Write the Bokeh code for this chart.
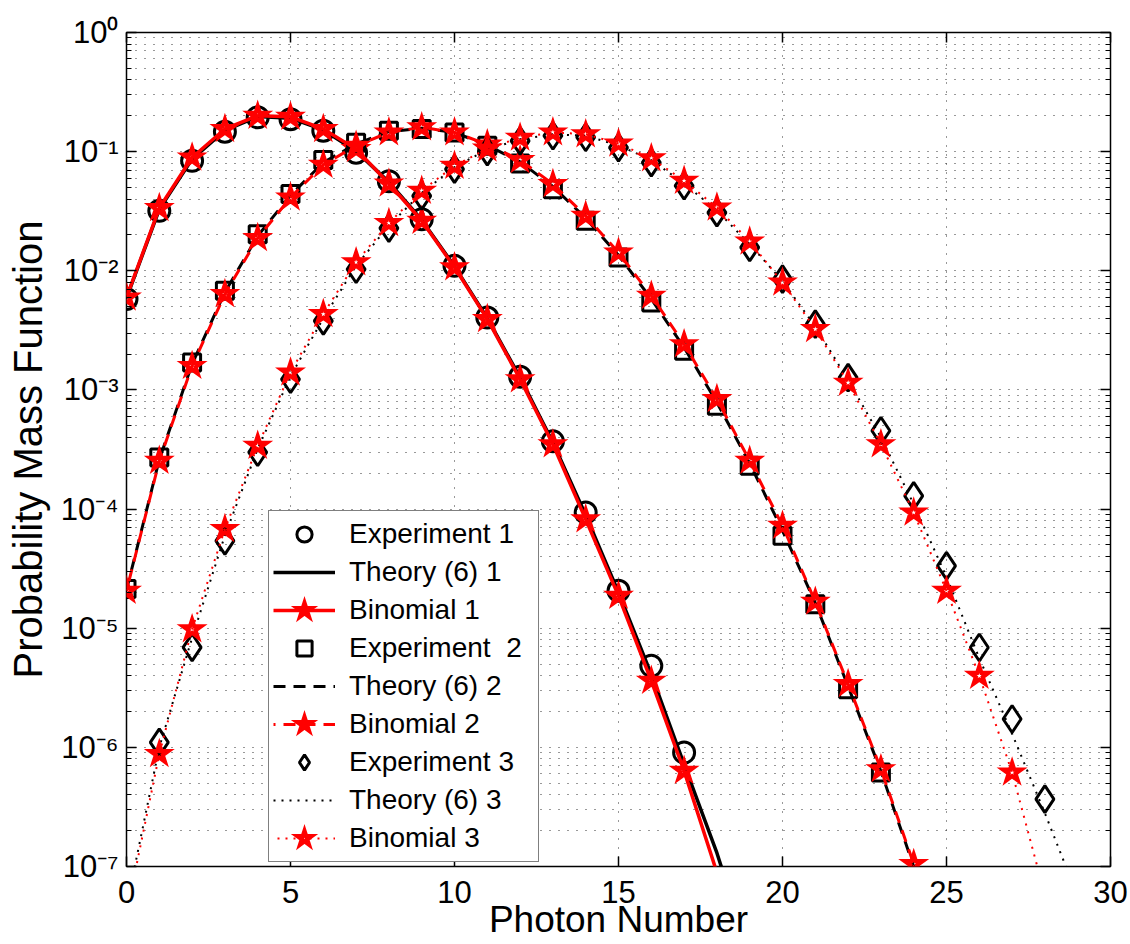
from bokeh.plotting import figure
from bokeh.models import (Range1d, LinearAxis, LogAxis, FixedTicker,
                          CustomJSTickFormatter, Legend, LegendItem)
from bokeh.embed import file_html
from bokeh.resources import INLINE

FONT = "Liberation Sans"

# ---------------- data ----------------
n_exp1 = list(range(0, 18))
exp1 = [5.8e-3, 0.0319, 0.0838, 0.147, 0.194, 0.187, 0.150, 0.098, 0.0565,
        0.0271, 0.0110, 4.05e-3, 1.29e-3, 3.7e-4, 9.35e-5, 2.06e-5, 4.83e-6,
        9.05e-7]
n_theory1 = list(range(0, 20))
theory1 = [5.9e-3, 0.0328, 0.0865, 0.151, 0.197, 0.191, 0.152, 0.101, 0.0555,
           0.0267, 0.0109, 4.0e-3, 1.27e-3, 3.62e-4, 8.9e-5, 2.0e-5, 4.1e-6,
           7.2e-7, 1.3e-7, 1.8e-8]
n_binom1 = list(range(0, 20))
binom1 = [5.97e-3, 0.0336, 0.0893, 0.155, 0.200, 0.196, 0.155, 0.105, 0.054,
          0.0263, 0.0107, 3.93e-3, 1.23e-3, 3.5e-4, 8.2e-5, 1.87e-5, 3.62e-6,
          6.35e-7, 8.9e-8, 1.1e-8]

n_exp2 = list(range(0, 24))
exp2 = [2.13e-5, 2.71e-4, 1.70e-3, 6.79e-3, 0.0203, 0.044, 0.0849, 0.119,
        0.150, 0.155, 0.145, 0.112, 0.0796, 0.0484, 0.0263, 0.0129, 5.42e-3,
        2.13e-3, 7.36e-4, 2.31e-4, 5.97e-5, 1.59e-5, 3.08e-6, 6.15e-7]
n_theory2 = list(range(0, 26))
theory2 = [2.1e-5, 2.6e-4, 1.65e-3, 6.6e-3, 0.0196, 0.043, 0.081, 0.116,
           0.147, 0.157, 0.145, 0.113, 0.082, 0.051, 0.0276, 0.0135, 5.8e-3,
           2.27e-3, 7.85e-4, 2.42e-4, 6.6e-5, 1.63e-5, 3.25e-6, 6.3e-7,
           1.0e-7, 1.3e-8]
n_binom2 = list(range(0, 26))
binom2 = [2.06e-5, 2.54e-4, 1.59e-3, 6.37e-3, 0.0188, 0.0412, 0.0776, 0.112,
          0.145, 0.160, 0.145, 0.115, 0.085, 0.0534, 0.0289, 0.0142, 6.17e-3,
          2.42e-3, 8.37e-4, 2.54e-4, 7.24e-5, 1.67e-5, 3.4e-6, 6.56e-7,
          1.05e-7, 1.4e-8]

n_exp3 = list(range(1, 29))
exp3 = [1.1e-6, 6.9e-6, 5.4e-5, 3.0e-4, 1.23e-3, 3.8e-3, 0.0103, 0.0228,
        0.0426, 0.0713, 0.100, 0.123, 0.136, 0.132, 0.108, 0.081, 0.0517,
        0.0308, 0.0157, 8.5e-3, 3.57e-3, 1.27e-3, 4.54e-4, 1.29e-4, 3.34e-5,
        6.89e-6, 1.73e-6, 3.68e-7]
n_theory3 = list(range(0, 30))
theory3 = [4.6e-8, 1.0e-6, 8.3e-6, 6.0e-5, 3.2e-4, 1.3e-3, 4.0e-3, 0.011,
           0.024, 0.045, 0.074, 0.104, 0.127, 0.140, 0.136, 0.113, 0.085,
           0.054, 0.032, 0.0167, 8.2e-3, 3.4e-3, 1.21e-3, 4.0e-4, 1.1e-4,
           2.7e-5, 5.6e-6, 1.3e-6, 2.8e-7, 5.6e-8]
n_binom3 = list(range(0, 29))
binom3 = [4.0e-8, 8.8e-7, 9.8e-6, 6.8e-5, 3.4e-4, 1.40e-3, 4.33e-3, 0.0118,
          0.0252, 0.047, 0.076, 0.106, 0.131, 0.145, 0.140, 0.117, 0.088,
          0.057, 0.034, 0.0176, 7.97e-3, 3.24e-3, 1.15e-3, 3.5e-4, 9.35e-5,
          2.06e-5, 3.98e-6, 6.15e-7, 5.8e-8]

labels = ["Experiment 1", "Theory (6) 1", "Binomial 1",
          "Experiment  2", "Theory (6) 2", "Binomial 2",
          "Experiment 3", "Theory (6) 3", "Binomial 3"]

x_ticks = [0, 5, 10, 15, 20, 25, 30]
y_exponents = [-7, -6, -5, -4, -3, -2, -1, 0]
x_min, x_max = 0, 30
y_min, y_max = 1e-7, 1.0
x_label = "Photon Number"
y_label = "Probability Mass Function"

y_ticks = [10.0 ** e for e in y_exponents]
y_minor = [m * 10.0 ** e for e in y_exponents[:-1] for m in range(2, 10)]

# ---------------- figure ----------------
p = figure(width=1130, height=944,
           x_range=Range1d(x_min, x_max), y_range=Range1d(y_min, y_max),
           y_axis_type="log", output_backend="svg", toolbar_location=None,
           min_border_left=126, min_border_right=20, min_border_top=32,
           min_border_bottom=78,
           background_fill_color="white", border_fill_color="white",
           outline_line_color="black", outline_line_width=1.5)

sup_js = r"""
const m = {'-':'\u207b','0':'\u2070','1':'\u00b9','2':'\u00b2','3':'\u00b3',
           '4':'\u2074','5':'\u2075','6':'\u2076','7':'\u2077','8':'\u2078','9':'\u2079'};
const e = Math.round(Math.log10(tick));
return '10' + String(e).split('').map(c => m[c]).join('');
"""

xaxis = p.below[0]
yaxis = p.left[0]

xaxis.ticker = FixedTicker(ticks=x_ticks)
yaxis.ticker = FixedTicker(ticks=y_ticks, minor_ticks=y_minor)
yaxis.formatter = CustomJSTickFormatter(code=sup_js)

for ax in (xaxis, yaxis):
    ax.axis_line_color = None
    ax.major_tick_in = 10
    ax.major_tick_out = 0
    ax.minor_tick_in = 5
    ax.minor_tick_out = 0
    ax.major_tick_line_color = "black"
    ax.major_tick_line_width = 1.5
    ax.minor_tick_line_color = "black"
    ax.minor_tick_line_width = 1.2
    ax.major_label_text_font = FONT
    ax.major_label_text_font_size = "31px"
    ax.major_label_text_color = "black"
    ax.axis_label_text_font = FONT
    ax.axis_label_text_font_style = "normal"
    ax.axis_label_text_color = "black"

xaxis.axis_label = x_label
xaxis.axis_label_text_font_size = "37px"
xaxis.major_label_standoff = 14
xaxis.axis_label_standoff = -7
yaxis.axis_label = y_label
yaxis.axis_label_text_font_size = "40px"
yaxis.major_label_standoff = 8
yaxis.axis_label_standoff = 8

empty = CustomJSTickFormatter(code="return '';")
top = LinearAxis(ticker=FixedTicker(ticks=x_ticks), formatter=empty,
                 axis_line_color=None, major_tick_in=10, major_tick_out=0,
                 major_tick_line_width=1.5, minor_tick_line_color=None,
                 major_label_standoff=0, major_label_text_font_size="0px")
p.add_layout(top, "above")
right = LogAxis(ticker=FixedTicker(ticks=y_ticks, minor_ticks=y_minor),
                formatter=empty, axis_line_color=None,
                major_tick_in=10, major_tick_out=0, major_tick_line_width=1.5,
                minor_tick_in=5, minor_tick_out=0, minor_tick_line_width=1.2,
                major_label_standoff=0, major_label_text_font_size="0px")
p.add_layout(right, "right")

# grid (MATLAB-style dotted)
p.xgrid.grid_line_color = "#333333"
p.xgrid.grid_line_dash = "1 8"
p.xgrid.grid_line_width = 1
p.ygrid.grid_line_color = "#333333"
p.ygrid.grid_line_dash = "1 8"
p.ygrid.grid_line_width = 1
p.ygrid.minor_grid_line_color = "#333333"
p.ygrid.minor_grid_line_dash = "1 8"
p.ygrid.minor_grid_line_width = 1


def visible(xs, ys):
    pts = [(x, y) for x, y in zip(xs, ys) if y_min <= y <= y_max]
    return [a for a, _ in pts], [b for _, b in pts]


STAR = dict(marker="star", size=19, fill_color=None, line_color="red",
            line_width=4.2, line_join="miter")

# ---------------- series ----------------
items = []

r = p.scatter(n_exp1, exp1, marker="circle", size=21, fill_color=None,
              line_color="black", line_width=3)
items.append(LegendItem(label=labels[0], renderers=[r]))
r = p.line(n_theory1, theory1, line_color="black", line_width=3.5)
items.append(LegendItem(label=labels[1], renderers=[r]))
rl = p.line(n_binom1, binom1, line_color="red", line_width=3.5)
bx, by = visible(n_binom1, binom1)
rs = p.scatter(bx, by, **STAR)
items.append(LegendItem(label=labels[2], renderers=[rl, rs]))

r = p.scatter(n_exp2, exp2, marker="square", size=17, fill_color=None,
              line_color="black", line_width=3)
items.append(LegendItem(label=labels[3], renderers=[r]))
r = p.line(n_theory2, theory2, line_color="black", line_width=3,
           line_dash="12 8")
items.append(LegendItem(label=labels[4], renderers=[r]))
rl = p.line(n_binom2, binom2, line_color="red", line_width=3,
            line_dash="12 8", line_dash_offset=10)
bx, by = visible(n_binom2, binom2)
rs = p.scatter(bx, by, **STAR)
items.append(LegendItem(label=labels[5], renderers=[rl, rs]))

r = p.scatter(n_exp3, exp3, marker="diamond", size=27, fill_color=None,
              line_color="black", line_width=3)
items.append(LegendItem(label=labels[6], renderers=[r]))
r = p.line(n_theory3, theory3, line_color="black", line_width=2,
           line_dash="2 6")
items.append(LegendItem(label=labels[7], renderers=[r]))
rl = p.line(n_binom3, binom3, line_color="red", line_width=2,
            line_dash="2 6", line_dash_offset=4)
bx, by = visible(n_binom3, binom3)
rs = p.scatter(bx, by, **STAR)
items.append(LegendItem(label=labels[8], renderers=[rl, rs]))

legend = Legend(items=items, location=(142, 4), glyph_width=62,
                glyph_height=38, spacing=0, padding=4, label_standoff=14,
                label_width=185,
                label_text_font=FONT, label_text_font_size="28px",
                label_text_color="black", border_line_color="black",
                border_line_width=1.5, background_fill_color="white",
                background_fill_alpha=1.0, margin=0)
p.add_layout(legend)

open("out.html", "w", encoding="utf-8").write(file_html(p, INLINE))
